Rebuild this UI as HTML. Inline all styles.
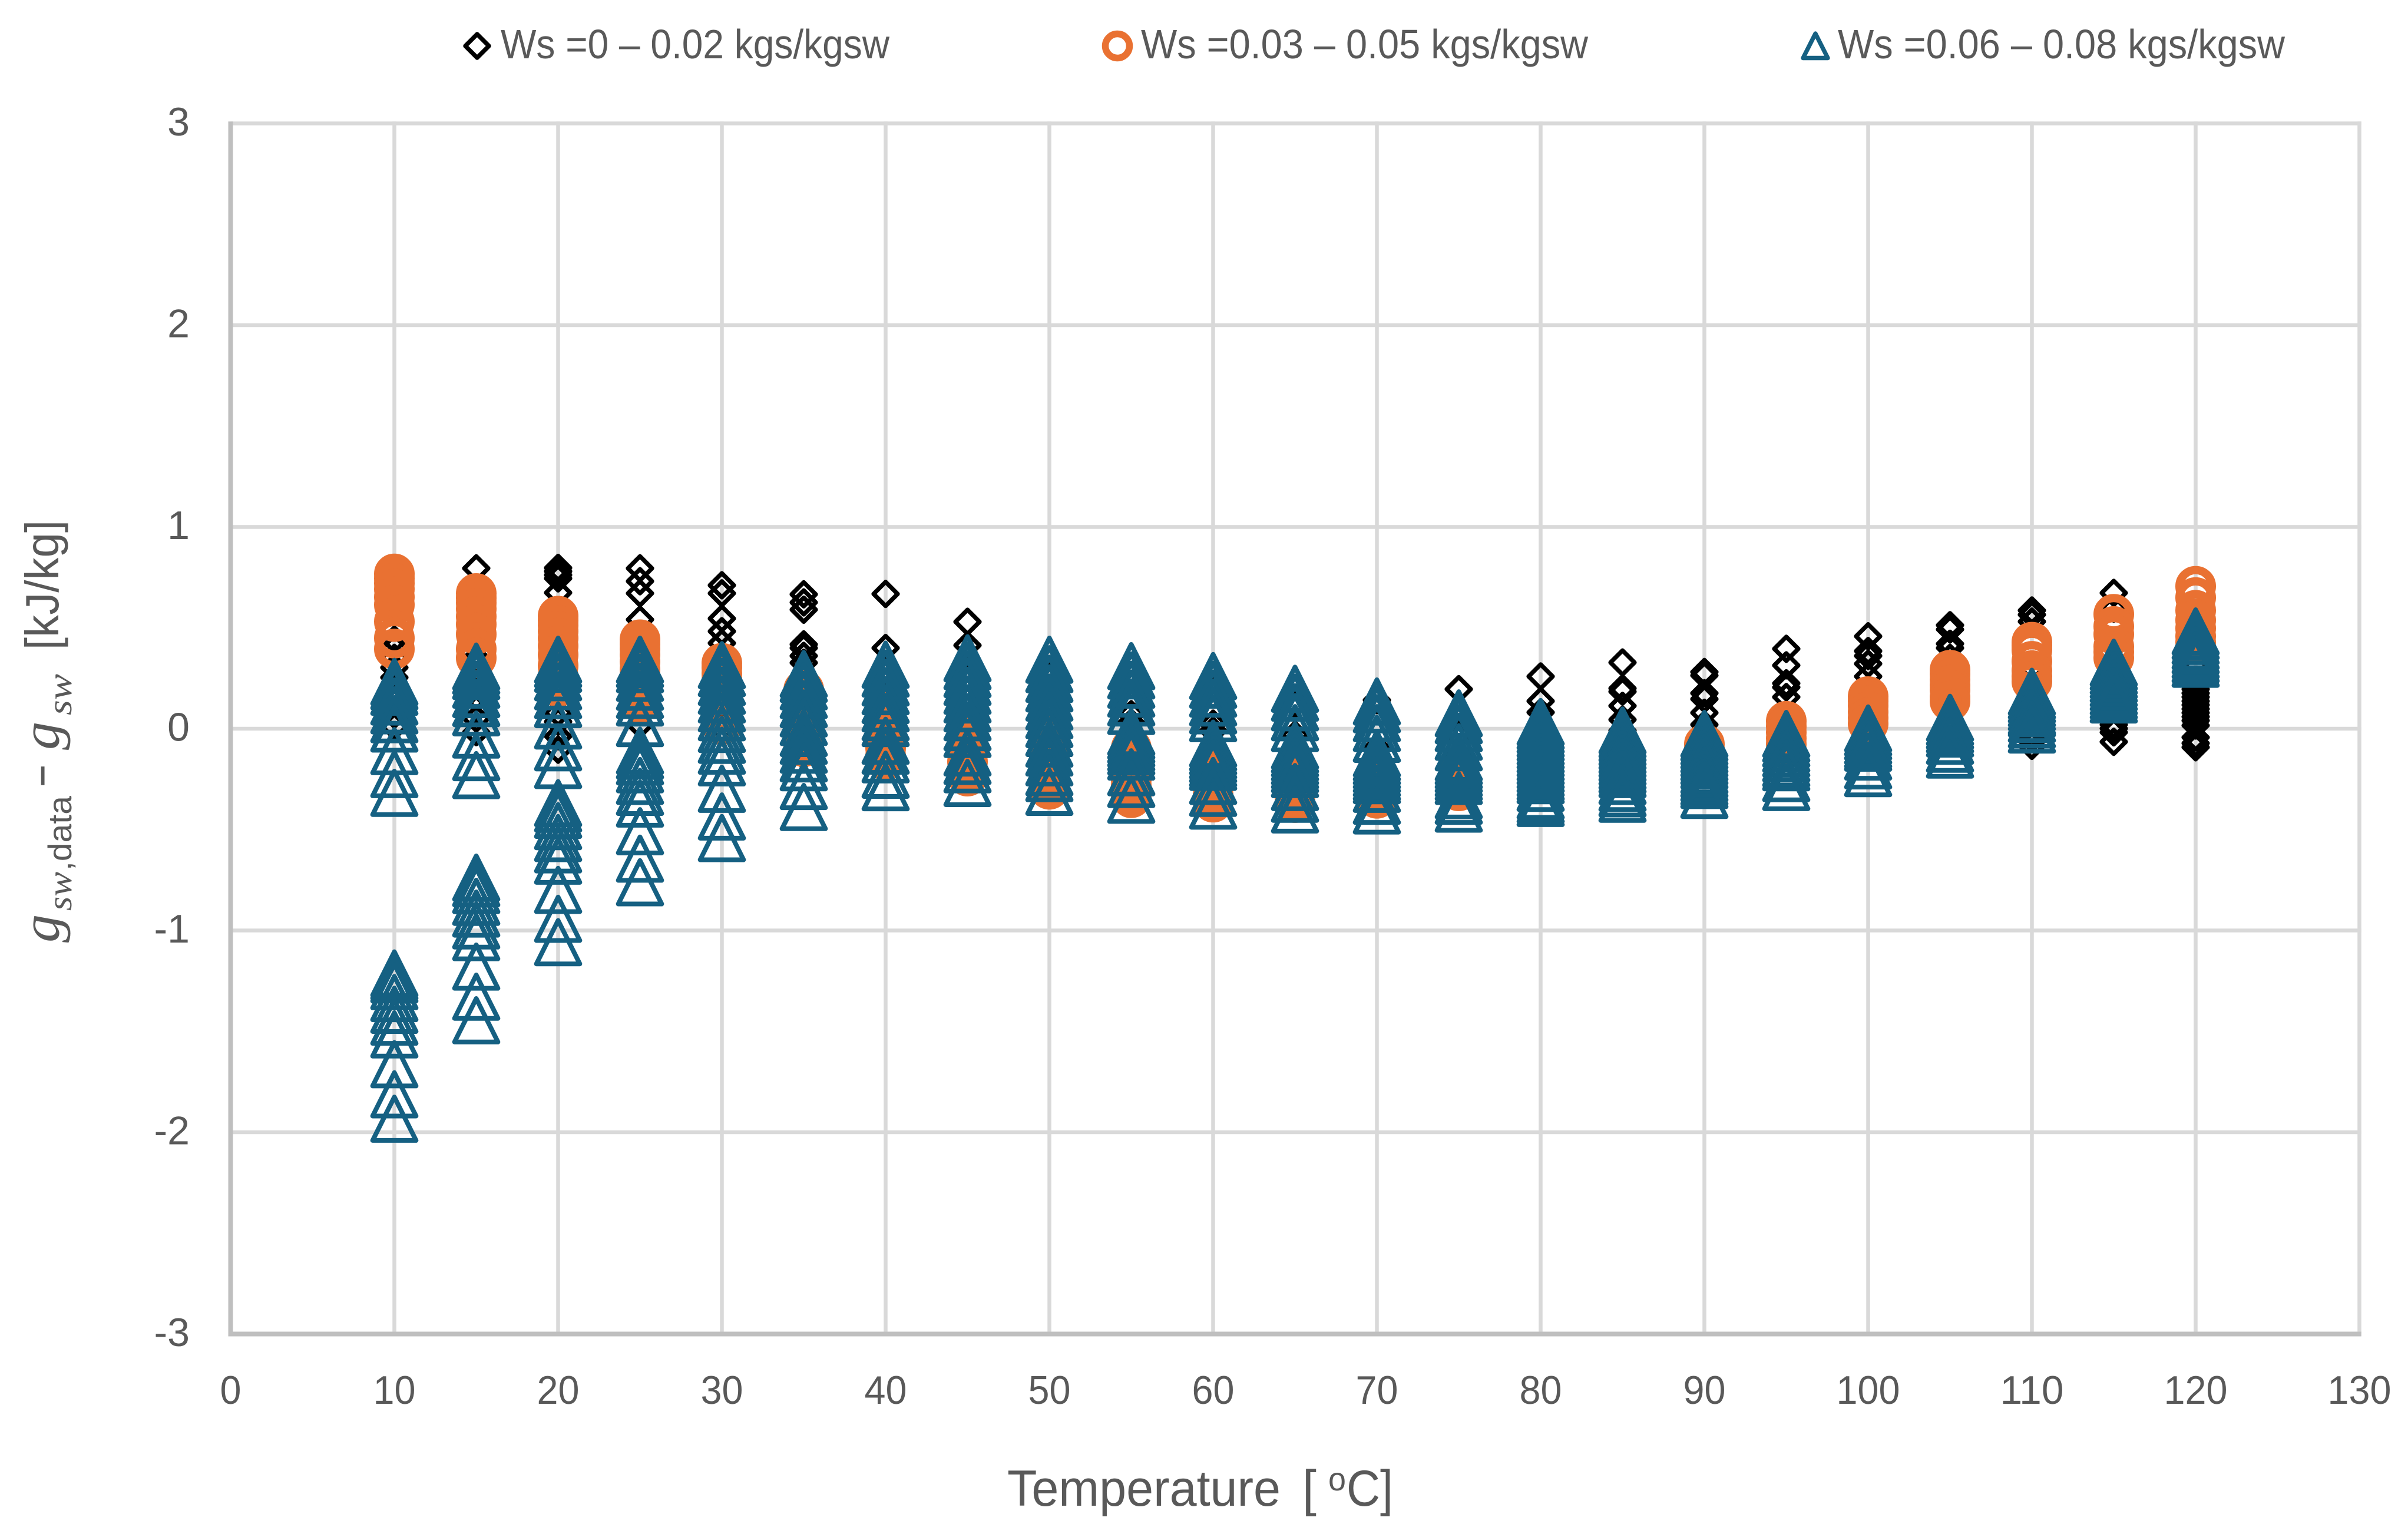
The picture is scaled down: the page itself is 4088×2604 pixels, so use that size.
<!DOCTYPE html>
<html lang="en">
<head>
<meta charset="utf-8">
<title>Seawater Gibbs energy deviation vs temperature</title>
<style>
html,body{margin:0;padding:0;background:#fff;width:4088px;height:2604px;overflow:hidden}
svg{display:block}
text{font-family:"Liberation Sans",sans-serif;fill:#595959}
.serif{font-family:"Liberation Serif",serif;font-style:italic}
</style>
</head>
<body>
<svg id="chart" xmlns="http://www.w3.org/2000/svg" width="4088" height="2604" viewBox="0 0 4088 2604">
  <rect x="0" y="0" width="4088" height="2604" fill="#ffffff"/>
  <g id="grid"></g>
  <g id="axes"></g>
  <g id="ticks"></g>
  <g id="series-diamond"></g>
  <g id="series-circle"></g>
  <g id="series-triangle"></g>

  <g>
    <g>
      <path d="M810 58L830 78L810 98L790 78Z" fill="#fff" stroke="#000" stroke-width="7.4" stroke-linejoin="round"/>
      <text x="850" y="99" font-size="70" textLength="660" lengthAdjust="spacingAndGlyphs">Ws =0 – 0.02 kgs/kgsw</text>
    </g>
    <g>
      <circle cx="1897" cy="78" r="20.5" fill="#fff" stroke="#E97132" stroke-width="11.5"/>
      <text x="1937" y="99" font-size="70" textLength="759" lengthAdjust="spacingAndGlyphs">Ws =0.03 – 0.05 kgs/kgsw</text>
    </g>
    <g>
      <path d="M3082 57L3103 98.5L3061 98.5Z" fill="#fff" stroke="#156082" stroke-width="7.4" stroke-linejoin="round"/>
      <text x="3120" y="99" font-size="70" textLength="759" lengthAdjust="spacingAndGlyphs">Ws =0.06 – 0.08 kgs/kgsw</text>
    </g>
  </g>

  <g>
    <text x="1710" y="2556" font-size="86" textLength="464" lengthAdjust="spacingAndGlyphs">Temperature</text>
    <text x="2211" y="2556" font-size="86">[</text>
    <text x="2255" y="2530" font-size="56" textLength="30" lengthAdjust="spacingAndGlyphs">o</text>
    <text x="2286" y="2556" font-size="86" textLength="79" lengthAdjust="spacingAndGlyphs">C]</text>
  </g>

  <g>
    <text class="serif" transform="translate(100,1600) rotate(-90)" font-size="92" textLength="48" lengthAdjust="spacingAndGlyphs">g</text>
    <text class="serif" transform="translate(121,1546) rotate(-90)" font-size="58" textLength="66" lengthAdjust="spacingAndGlyphs">sw</text>
    <text transform="translate(121,1478) rotate(-90)" font-size="56" textLength="127" lengthAdjust="spacingAndGlyphs">,data</text>
    <text transform="translate(100,1336) rotate(-90)" font-size="82" textLength="38" lengthAdjust="spacingAndGlyphs">−</text>
    <text class="serif" transform="translate(100,1273) rotate(-90)" font-size="92" textLength="48" lengthAdjust="spacingAndGlyphs">g</text>
    <text class="serif" transform="translate(121,1214) rotate(-90)" font-size="58" textLength="70" lengthAdjust="spacingAndGlyphs">sw</text>
    <text transform="translate(99,1103) rotate(-90)" font-size="80" textLength="220" lengthAdjust="spacingAndGlyphs">[kJ/kg]</text>
  </g>
</svg>

<script>
var temperatures = [10,15,20,25,30,35,40,45,50,55,60,65,70,75,80,85,90,95,100,105,110,115,120];
var xTickLabels = [0,10,20,30,40,50,60,70,80,90,100,110,120,130];
var yTickLabels = [3,2,1,0,-1,-2,-3];

var diamondValues = [
  [0.442,0.40,0.351,0.303,0.254,0.205,0.147,0.069,0.011],
  [0.795,0.682,0.536,0.351,0.312,0.264,0.215,0.157,0.098,0.05,-0.017],
  [0.797,0.78,0.762,0.745,0.674,0.536,0.342,0.166,0.079,0.035,-0.038,-0.104],
  [0.795,0.731,0.671,0.541,0.468,0.332,0.186,0.098,0.02],
  [0.711,0.671,0.546,0.483,0.424,0.332,0.205,0.059,0.001],
  [0.666,0.626,0.59,0.418,0.4,0.361,0.327,0.235,0.059,-0.135],
  [0.668,0.4,0.273,0.098,-0.167],
  [0.53,0.413,0.254,0.059,-0.194],
  [0.264,0.1,-0.1],
  [0.26,0.072,0.03],
  [0.205,0.025,-0.01],
  [0.12,-0.03],
  [0.142,-0.096],
  [0.196,-0.03,-0.135],
  [0.259,0.137,0.081,0.011,-0.116],
  [0.328,0.2,0.184,0.113,0.045,-0.009],
  [0.281,0.264,0.176,0.147,0.079,0.02],
  [0.396,0.314,0.225,0.205,0.157],
  [0.458,0.385,0.361,0.322,0.259],
  [0.513,0.492,0.421,0.4,0.351],
  [0.586,0.565,0.531,0.303,-0.028,-0.05,-0.085],
  [0.673,0.595,0.41,0.205,0.02,0.001,-0.018,-0.065],
  [0.4,0.303,0.215,0.196,0.176,0.157,0.137,0.118,0.098,0.079,0.059,0.04,0.016,-0.043,-0.072,-0.092]
];

var circleValues = [
  [0.767,0.745,0.721,0.692,0.653,0.614,0.531,0.449,0.395],
  [0.67,0.648,0.624,0.595,0.556,0.517,0.468,0.395,0.351],
  [0.558,0.536,0.512,0.483,0.449,0.41,0.366,0.312,0.259,0.208],
  [0.441,0.419,0.395,0.366,0.332,0.293,0.254,0.205,0.157,0.13],
  [0.324,0.303,0.273,0.244,0.205,0.166,0.123,0.079,0.02],
  [0.193,0.166,0.137,0.103,0.064,0.02,-0.023,-0.067,-0.089],
  [0.098,0.059,0.02,-0.018,-0.057,-0.096,-0.135,-0.157],
  [0.02,-0.009,-0.048,-0.087,-0.126,-0.164,-0.203,-0.235],
  [-0.038,-0.087,-0.135,-0.174,-0.213,-0.252,-0.281,-0.3],
  [-0.096,-0.135,-0.174,-0.213,-0.252,-0.281,-0.31,-0.342],
  [-0.174,-0.213,-0.252,-0.291,-0.33,-0.364],
  [-0.194,-0.233,-0.272,-0.31,-0.34,-0.366],
  [-0.233,-0.262,-0.291,-0.32,-0.345],
  [-0.223,-0.252,-0.281,-0.308],
  [-0.135,-0.164,-0.194,-0.223,-0.252],
  [-0.155,-0.185,-0.214,-0.243],
  [-0.077,-0.101,-0.126,-0.155,-0.185],
  [0.037,0.011,-0.018,-0.048,-0.077],
  [0.159,0.137,0.113,0.083,0.054,0.025],
  [0.29,0.269,0.244,0.215,0.191,0.157,0.136],
  [0.429,0.411,0.39,0.334,0.288,0.259,0.234],
  [0.567,0.507,0.468,0.407,0.38,0.351],
  [0.706,0.65,0.587,0.538,0.497,0.458,0.428]
];

var triangleValues = [
  [0.232,0.21,0.183,0.135,0.091,0.047,0.001,-0.111,-0.225,-0.318,-1.213,-1.228,-1.242,-1.276,-1.335,-1.393,-1.452,-1.515,-1.663,-1.812,-1.933],
  [0.308,0.286,0.261,0.218,0.172,0.127,0.081,-0.029,-0.141,-0.23,-0.738,-0.766,-0.80,-0.858,-0.916,-0.975,-1.033,-1.179,-1.328,-1.445],
  [0.342,0.32,0.297,0.255,0.21,0.166,0.122,0.016,-0.092,-0.18,-0.369,-0.396,-0.427,-0.483,-0.542,-0.598,-0.654,-0.799,-0.942,-1.058],
  [0.342,0.32,0.295,0.252,0.208,0.167,0.13,0.028,-0.109,-0.133,-0.162,-0.201,-0.259,-0.313,-0.371,-0.508,-0.644,-0.761],
  [0.315,0.276,0.232,0.188,0.145,0.101,0.057,-0.001,-0.055,-0.109,-0.167,-0.298,-0.435,-0.542],
  [0.271,0.247,0.21,0.167,0.122,0.076,0.033,-0.021,-0.06,-0.104,-0.147,-0.191,-0.284,-0.388],
  [0.317,0.273,0.229,0.186,0.142,0.101,0.057,0.028,-0.06,-0.109,-0.152,-0.228,-0.29],
  [0.349,0.31,0.271,0.232,0.188,0.145,0.101,0.057,0.008,-0.026,-0.118,-0.16,-0.201,-0.269],
  [0.342,0.295,0.247,0.2,0.154,0.11,0.067,0.023,-0.021,-0.074,-0.118,-0.167,-0.216,-0.245,-0.313],
  [0.31,0.264,0.218,0.174,0.13,0.088,-0.016,-0.035,-0.055,-0.074,-0.094,-0.113,-0.138,-0.216,-0.274,-0.352],
  [0.261,0.218,0.174,0.13,0.091,0.052,-0.074,-0.094,-0.113,-0.133,-0.152,-0.172,-0.189,-0.259,-0.318,-0.381],
  [0.198,0.154,0.106,0.057,0.003,-0.084,-0.104,-0.123,-0.143,-0.162,-0.182,-0.201,-0.225,-0.289,-0.347,-0.40],
  [0.135,0.096,0.052,0.003,-0.05,-0.123,-0.143,-0.162,-0.182,-0.201,-0.221,-0.24,-0.255,-0.298,-0.357,-0.405],
  [0.076,0.042,0.003,-0.04,-0.092,-0.143,-0.162,-0.182,-0.201,-0.221,-0.24,-0.259,-0.33,-0.357,-0.396],
  [0.033,0.013,-0.006,-0.026,-0.045,-0.065,-0.084,-0.104,-0.123,-0.143,-0.162,-0.182,-0.201,-0.221,-0.24,-0.255,-0.293,-0.332,-0.352,-0.368],
  [-0.009,-0.029,-0.048,-0.068,-0.087,-0.107,-0.126,-0.146,-0.165,-0.185,-0.204,-0.225,-0.259,-0.293,-0.32,-0.347],
  [-0.026,-0.045,-0.065,-0.084,-0.104,-0.123,-0.143,-0.162,-0.182,-0.206,-0.225,-0.245,-0.264,-0.279,-0.328],
  [-0.026,-0.05,-0.074,-0.099,-0.123,-0.147,-0.172,-0.191,-0.245,-0.289],
  [0.001,-0.019,-0.039,-0.06,-0.079,-0.094,-0.138,-0.182,-0.22],
  [0.054,0.033,0.015,-0.004,-0.024,-0.06,-0.099,-0.128],
  [0.183,0.164,0.145,0.125,0.106,0.086,0.076,0.049,0.021,-0.004],
  [0.327,0.307,0.286,0.266,0.246,0.225,0.205,0.184,0.164,0.145],
  [0.482,0.459,0.435,0.41,0.388,0.365,0.344,0.322]
];

var SVGNS = 'http://www.w3.org/2000/svg';

function xScale(v) { return 391.5 + v * 27.8; }
function yScale(v) { return 1237 - v * 342.5; }

var gridLayer = document.getElementById('grid');
var axesLayer = document.getElementById('axes');
var tickLayer = document.getElementById('ticks');

function makeLine(x1, y1, x2, y2, color, width) {
  var l = document.createElementNS(SVGNS, 'line');
  l.setAttribute('x1', x1);
  l.setAttribute('y1', y1);
  l.setAttribute('x2', x2);
  l.setAttribute('y2', y2);
  l.setAttribute('stroke', color);
  l.setAttribute('stroke-width', width);
  return l;
}

xTickLabels.forEach(function (t) {
  if (t !== 0) {
    var g = makeLine(xScale(t), yScale(3) - 3.25, xScale(t), yScale(-3), '#d9d9d9', 6.5);
    
    
    gridLayer.appendChild(g);
  }
  var label = document.createElementNS(SVGNS, 'text');
  
  
  label.setAttribute('x', xScale(t));
  label.setAttribute('y', 2383);
  label.setAttribute('font-size', 68);
  label.setAttribute('text-anchor', 'middle');
  label.setAttribute('textLength', String(t).length * 36);
  label.setAttribute('lengthAdjust', 'spacingAndGlyphs');
  label.textContent = t;
  tickLayer.appendChild(label);
});

yTickLabels.forEach(function (t) {
  if (t !== -3) {
    var g = makeLine(xScale(0), yScale(t), xScale(130) + 3.25, yScale(t), '#d9d9d9', 6.5);
    
    
    gridLayer.appendChild(g);
  }
  var label = document.createElementNS(SVGNS, 'text');
  
  
  label.setAttribute('x', 322);
  label.setAttribute('y', yScale(t) + 20.5);
  label.setAttribute('font-size', 68);
  label.setAttribute('text-anchor', 'end');
  label.textContent = t;
  tickLayer.appendChild(label);
});

var yAxisLine = makeLine(xScale(0), yScale(3) - 3.25, xScale(0), yScale(-3) + 4, '#bfbfbf', 8);


axesLayer.appendChild(yAxisLine);

var xAxisLine = makeLine(xScale(0) - 4, yScale(-3), xScale(130) + 3.25, yScale(-3), '#bfbfbf', 8);


axesLayer.appendChild(xAxisLine);

function diamondPath(cx, cy) {
  var h = 20.4;
  return 'M' + cx + ' ' + (cy - h) + 'L' + (cx + h) + ' ' + cy + 'L' + cx + ' ' + (cy + h) + 'L' + (cx - h) + ' ' + cy + 'Z';
}
function trianglePath(cx, cy) {
  var h = 36.85;
  return 'M' + cx + ' ' + (cy - h) + 'L' + (cx + h) + ' ' + (cy + h) + 'L' + (cx - h) + ' ' + (cy + h) + 'Z';
}

var diamondLayer = document.getElementById('series-diamond');
diamondValues.forEach(function (col, i) {
  col.forEach(function (v) {
    var el = document.createElementNS(SVGNS, 'path');
    
    
    el.setAttribute('d', diamondPath(xScale(temperatures[i]), yScale(v)));
    el.setAttribute('fill', 'none');
    el.setAttribute('stroke', '#000000');
    el.setAttribute('stroke-width', 7.4);
    el.setAttribute('stroke-linejoin', 'round');
    diamondLayer.appendChild(el);
  });
});

var circleLayer = document.getElementById('series-circle');
circleValues.forEach(function (col, i) {
  col.forEach(function (v) {
    var el = document.createElementNS(SVGNS, 'circle');
    
    
    el.setAttribute('cx', xScale(temperatures[i]));
    el.setAttribute('cy', yScale(v));
    el.setAttribute('r', 27.5);
    el.setAttribute('fill', 'none');
    el.setAttribute('stroke', '#E97132');
    el.setAttribute('stroke-width', 14);
    circleLayer.appendChild(el);
  });
});

var triangleLayer = document.getElementById('series-triangle');
triangleValues.forEach(function (col, i) {
  col.forEach(function (v) {
    var el = document.createElementNS(SVGNS, 'path');
    
    
    el.setAttribute('d', trianglePath(xScale(temperatures[i]), yScale(v)));
    el.setAttribute('fill', 'none');
    el.setAttribute('stroke', '#156082');
    el.setAttribute('stroke-width', 8);
    el.setAttribute('stroke-linejoin', 'round');
    triangleLayer.appendChild(el);
  });
});
</script>
</body>
</html>
